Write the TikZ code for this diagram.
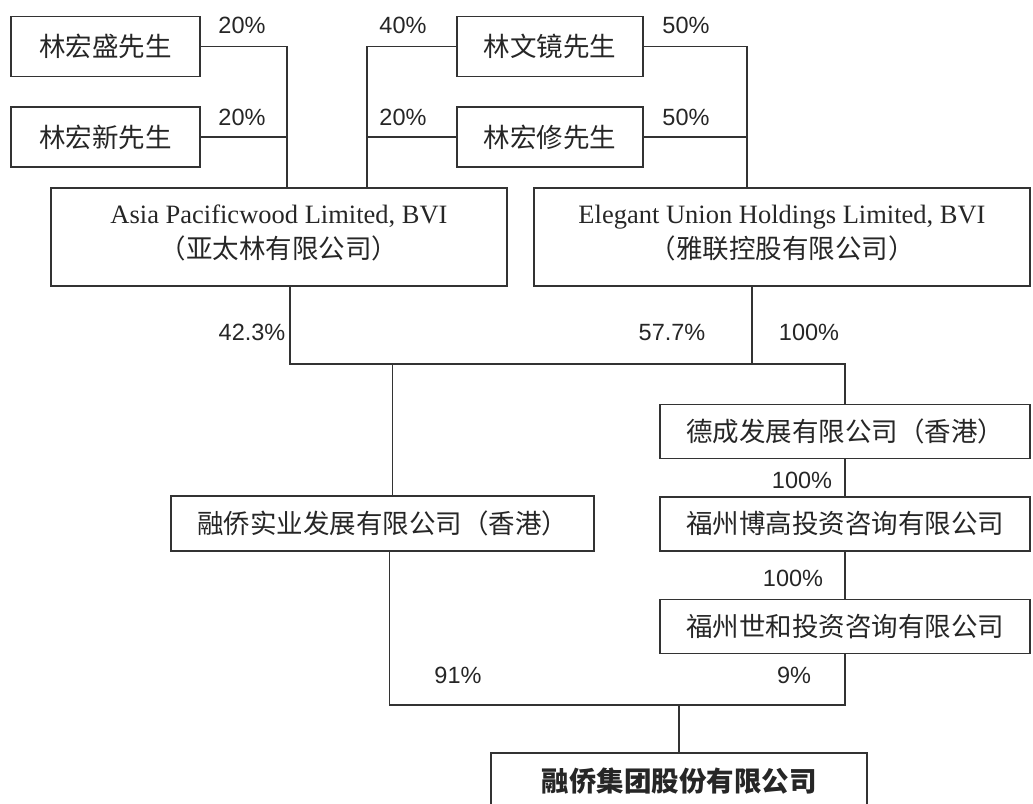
\documentclass[tikz,border=0pt]{standalone}
\usepackage{fontspec}
\setmainfont{Liberation Serif}
\newfontfamily\cjk{Noto Sans CJK SC}
\newfontfamily\pctfont{Liberation Sans}
\usetikzlibrary{positioning}

\begin{document}
\begin{tikzpicture}[x=1pt,y=-1pt,line width=1.5pt,draw=black!80,
box/.style={draw=black!80, inner sep=0pt, text=black!85, align=center,
font=\cjk\fontsize{26.5}{35}\selectfont},
pct/.style={inner sep=0pt, text=black!85, font=\pctfont\fontsize{23.5}{26}\selectfont}]
\useasboundingbox (0,0) rectangle (1033,803);
\clip (0,0) rectangle (1033,803);

% shareholders
\node[box, minimum width=189pt, minimum height=60pt] (p1) at (105.5,46.5) {林宏盛先生};
\node[box, minimum width=189pt, minimum height=60pt, below=29pt of p1] (p2) {林宏新先生};
\node[box, minimum width=186pt, minimum height=60pt] (p3) at (550,46.5) {林文镜先生};
\node[box, minimum width=186pt, minimum height=60pt, below=29pt of p3] (p4) {林宏修先生};

% BVI holdings
\node[box, minimum width=456pt, minimum height=98pt] (apw) at (279,237)
  {{\rmfamily\fontsize{26.5}{35}\selectfont Asia Pacificwood Limited, BVI}\\（亚太林有限公司）\rule[-10pt]{0pt}{0pt}};
\node[box, minimum width=496pt, minimum height=98pt] (euh) at (782,237)
  {{\rmfamily\fontsize{26.5}{35}\selectfont Elegant Union Holdings Limited, BVI}\\（雅联控股有限公司）\rule[-10pt]{0pt}{0pt}};

% subsidiaries
\node[box, minimum width=370pt, minimum height=54pt] (dc) at (845,431.5) {德成发展有限公司（香港）};
\node[box, minimum width=370pt, minimum height=54pt, below=37pt of dc] (bg) {福州博高投资咨询有限公司};
\node[box, minimum width=370pt, minimum height=54pt, below=47pt of bg] (sh) {福州世和投资咨询有限公司};
\node[box, minimum width=423pt, minimum height=55pt] (rq) at (382.5,523.5) {融侨实业发展有限公司（香港）};
\node[box, minimum width=376pt, minimum height=56pt, font=\cjk\bfseries\fontsize{27.5}{35}\selectfont] (grp) at (679,781) {融侨集团股份有限公司};

% junctions
\coordinate (j1) at ([xshift=8pt]apw.north);
\coordinate (j2) at ([xshift=88pt]apw.north);
\coordinate (j3) at ([xshift=-35pt]euh.north);
\coordinate (j4) at ([xshift=11pt]apw.south);
\coordinate (j5) at ([xshift=-30pt]euh.south);
\coordinate (j6) at ([xshift=10pt]rq.north);
\coordinate (j7) at ([xshift=7pt]rq.south);
\coordinate (bar) at (0,364);
\coordinate (bar2) at (0,705);

\draw (p1.east) -| (j1);
\draw (p2.east) -- (p2.east -| j1);
\draw (p3.west) -| (j2);
\draw (p4.west) -- (p4.west -| j2);
\draw (p3.east) -| (j3);
\draw (p4.east) -- (p4.east -| j3);
\draw (j4) -- (j4 |- bar) -- (j5 |- bar) -- (j5);
\draw (j5 |- bar) -| (dc.north);
\draw (j6 |- bar) -- (j6);
\draw (dc.south) -- (bg.north);
\draw (bg.south) -- (sh.north);
\draw (j7) -- (j7 |- bar2) -| (sh.south);
\draw (grp.north) -- (grp.north |- bar2);

% shares
\node[pct] (s1) at (242,25) {20\%};
\node[pct] (s2) at (242,117) {20\%};
\node[pct] (s3) at (403,25) {40\%};
\node[pct] (s4) at (403,117) {20\%};
\node[pct] (s5) at (686,25) {50\%};
\node[pct] (s6) at (686,117) {50\%};
\node[pct] (s7) at (252,332) {42.3\%};
\node[pct] (s8) at (672,332) {57.7\%};
\node[pct] (s9) at (809,332) {100\%};
\node[pct] (s10) at (802,480) {100\%};
\node[pct] (s11) at (793,578) {100\%};
\node[pct] (s12) at (458,675) {91\%};
\node[pct] (s13) at (794,675) {9\%};
\end{tikzpicture}
\end{document}
